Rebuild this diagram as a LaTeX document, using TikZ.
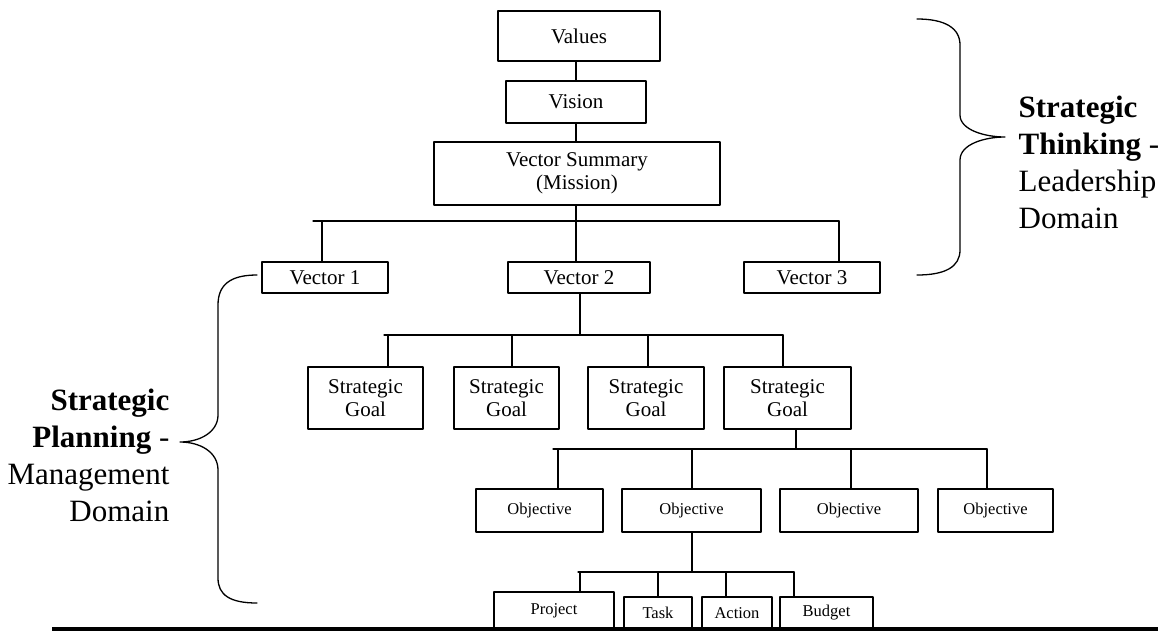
\documentclass[tikz,border=0pt]{standalone}
\usepackage{fontspec}
\setmainfont{Liberation Serif}
\tikzset{
  box/.style={draw,line width=1.3pt,inner sep=0pt,align=center,font=\fontsize{21}{23.5}\selectfont},
  sbox/.style={box,font=\fontsize{16.5}{19}\selectfont},
  side/.style={inner sep=0pt,font=\fontsize{31}{37}\selectfont}
}
\begin{document}
\begin{tikzpicture}[x=1pt,y=-1pt,line width=1.3pt,line join=round,line cap=round]
\useasboundingbox (0,0) rectangle (1158,635);
% leadership level
\node[box,minimum width=162,minimum height=50] (values) at (579,36) {Values};
\node[box,minimum width=140,minimum height=42] (vision) at (576,102) {Vision};
\node[box,minimum width=286,minimum height=63] (summary) at (577,173.5) {Vector Summary\\(Mission)};
\node[box,minimum width=126,minimum height=31] (vec1) at (325,277.5) {Vector 1};
\node[box,minimum width=142,minimum height=31] (vec2) at (579,277.5) {Vector 2};
\node[box,minimum width=136,minimum height=31] (vec3) at (812,277.5) {Vector 3};
% management level
\node[box,minimum width=115,minimum height=62] (sg1) at (365.5,398) {Strategic\\Goal};
\node[box,minimum width=105,minimum height=62] (sg2) at (506.5,398) {Strategic\\Goal};
\node[box,minimum width=116,minimum height=62] (sg3) at (646,398) {Strategic\\Goal};
\node[box,minimum width=127,minimum height=62] (sg4) at (787.5,398) {Strategic\\Goal};
\node[sbox,minimum width=127,minimum height=43] (obj1) at (539.5,510.5) {Objective};
\node[sbox,minimum width=139,minimum height=43] (obj2) at (691.5,510.5) {Objective};
\node[sbox,minimum width=138,minimum height=43] (obj3) at (849,510.5) {Objective};
\node[sbox,minimum width=115,minimum height=43] (obj4) at (995.5,510.5) {Objective};
\node[sbox,minimum width=120,minimum height=37] (project) at (554,610.5) {Project};
\node[sbox,minimum width=68,minimum height=32] (task) at (658,613) {Task};
\node[sbox,minimum width=70,minimum height=32] (action) at (737,613) {Action};
\node[sbox,minimum width=93,minimum height=32] (budget) at (826.5,613) {Budget};
% connectors
\draw (vision.north) -- (vision.north |- values.south);
\draw (vision.south) -- (vision.south |- summary.north);
\draw (313,221) coordinate (b1) -- (839,221);
\draw (576,221) coordinate (s1) -- (s1 |- summary.south);
\foreach \n/\x in {vec1/322,vec2/576,vec3/839}
  \draw (\x,221) coordinate (t) -- (t |- \n.north);
\draw (384,335) coordinate (b2) -- (783,335);
\draw (580,335) coordinate (s2) -- (s2 |- vec2.south);
\foreach \n/\x in {sg1/388,sg2/512,sg3/648,sg4/783}
  \draw (\x,335) coordinate (t) -- (t |- \n.north);
\draw (553,449) coordinate (b3) -- (987,449);
\draw (796,449) coordinate (s3) -- (s3 |- sg4.south);
\foreach \n/\x in {obj1/558,obj2/692,obj3/851,obj4/987}
  \draw (\x,449) coordinate (t) -- (t |- \n.north);
\draw (578,572) coordinate (b4) -- (794,572);
\draw (692,572) coordinate (s4) -- (s4 |- obj2.south);
\foreach \n/\x in {project/580,task/658,action/726,budget/794}
  \draw (\x,572) coordinate (t) -- (t |- \n.north);
\draw[line width=3.5pt,line cap=butt] (52,629) -- (1158,629);
% braces
\draw (257,275) .. controls (230,275) and (218,285) .. (218,305) -- (218,415)
  .. controls (218,432) and (200,442) .. (180,442)
  .. controls (200,442) and (218,452) .. (218,470) -- (218,578)
  .. controls (218,595) and (230,603) .. (257,603);
\draw (917,19) .. controls (945,19) and (960,28) .. (960,45) -- (960,115)
  .. controls (960,130) and (985,137) .. (1005,137)
  .. controls (985,137) and (960,144) .. (960,160) -- (960,250)
  .. controls (960,267) and (945,275) .. (917,275);
\node[side,anchor=north east,align=right] (planning) at (170,388)
  {\textbf{Strategic}\\\textbf{Planning} -\\Management\\Domain\hspace{5pt}};
\node[side,anchor=north west,align=left] (thinking) at (1018,95)
  {\textbf{Strategic}\\\textbf{Thinking} -\\Leadership\\Domain};
\end{tikzpicture}
\end{document}
